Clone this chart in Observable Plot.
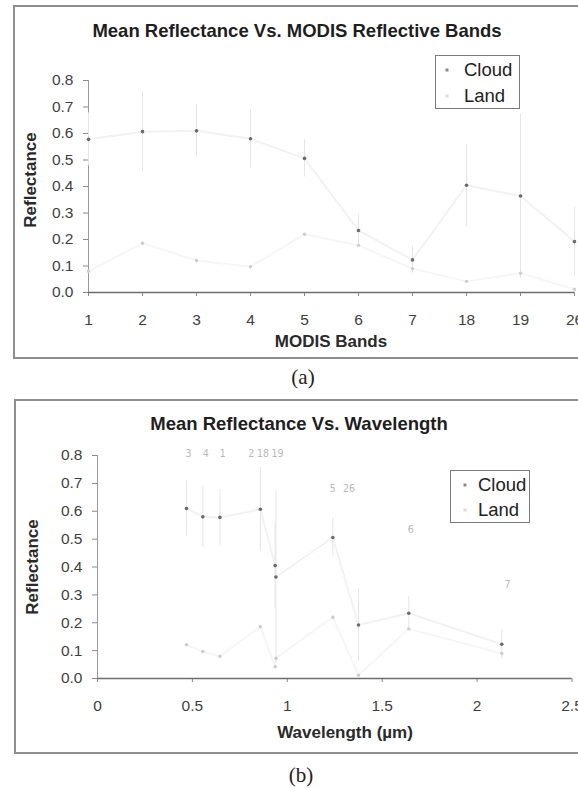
<!DOCTYPE html>
<html>
<head>
<meta charset="utf-8">
<script src="https://cdn.jsdelivr.net/npm/d3@7"></script>
<script src="https://cdn.jsdelivr.net/npm/@observablehq/plot@0.6"></script>
<style>
  html, body { margin: 0; padding: 0; background: #fff; }
  body { width: 578px; height: 788px; overflow: hidden; position: relative; font-family: "Liberation Sans", Arial, sans-serif; }
  .frame { position: absolute; border: 2px solid #8e8e8e; box-sizing: border-box; }
  .t { position: absolute; transform: translate(-50%, -50%); white-space: nowrap; color: #1e1e1e; }
  .title { font-weight: bold; font-size: 18.5px; }
  .axt { font-weight: bold; font-size: 17px; color: #2a2a2a; }
  .cap { font-family: "Liberation Serif", "DejaVu Serif", serif; font-size: 21px; color: #222; }
  .legend { position: absolute; border: 1.5px solid #7a7a7a; box-sizing: border-box; background: #fff; }
  .lg { position: absolute; font-size: 18.5px; color: #222; transform: translateY(-50%); white-space: nowrap; }
  .mk { position: absolute; width: 3px; height: 3px; transform: translate(-50%, -50%); }
  .plotwrap { position: absolute; width: 620px; }
</style>
</head>
<body>
<div class="frame" style="left:13px;top:5px;width:620px;height:354px;"></div>
<div class="frame" style="left:14px;top:399px;width:620px;height:355px;"></div>
<div id="pa" class="plotwrap" style="left:0;top:0;"></div>
<div id="pb" class="plotwrap" style="left:0;top:380px;"></div>
<div id="texts"></div>
<script>
// ---- data ----
const bands       = ["1", "2", "3", "4", "5", "6", "7", "18", "19", "26"];
const wavelengths = [0.645, 0.858, 0.469, 0.555, 1.240, 1.640, 2.130, 0.936, 0.940, 1.375];
const cloudMean   = [0.578, 0.607, 0.610, 0.580, 0.506, 0.234, 0.123, 0.405, 0.364, 0.192];
const landMean    = [0.080, 0.186, 0.121, 0.097, 0.220, 0.178, 0.090, 0.042, 0.073, 0.012];
const cloudErr    = [0.10, 0.15, 0.10, 0.11, 0.07, 0.06, 0.05, 0.155, 0.31, 0.13];
const yTicks      = [0, 0.1, 0.2, 0.3, 0.4, 0.5, 0.6, 0.7, 0.8];
const wlTicks     = [0, 0.5, 1, 1.5, 2, 2.5];
const bandLabels  = ["3", "4", "1", "2", "18", "19", "5", "26", "6", "7"];
const bandLabelX  = [0.48, 0.57, 0.66, 0.81, 0.872, 0.948, 1.24, 1.325, 1.65, 2.16];
const bandLabelY  = [0.807, 0.807, 0.807, 0.807, 0.807, 0.807, 0.68, 0.68, 0.534, 0.337];
const seriesNames = ["Cloud", "Land"];

const rows = bands.map((b, i) => ({band: b, wl: wavelengths[i], cloud: cloudMean[i], land: landMean[i], err: cloudErr[i]}));
const rowsByWl = rows.slice().sort((a, b) => a.wl - b.wl);
const labelRows = bandLabels.map((t, i) => ({t, x: bandLabelX[i], y: bandLabelY[i]}));

const FONT = '"Liberation Sans", Arial, sans-serif';
const svgStyle = {background: "transparent", maxWidth: "none", overflow: "visible", fontFamily: FONT, color: "#3a3a3a"};

const COL = {cloudDot: "#6a6a6a", landDot: "#cdcdcd", cloudLine: "#f2f2f2", landLine: "#f6f6f6", err: "#e6e6e6"};

function markSet(xKey, data) {
  return [
    Plot.line(data, {x: xKey, y: "land", stroke: COL.landLine, strokeWidth: 2}),
    Plot.line(data, {x: xKey, y: "cloud", stroke: COL.cloudLine, strokeWidth: 2}),
    Plot.ruleX(data, {x: xKey, y1: d => Math.max(0, d.cloud - d.err), y2: d => d.cloud + d.err, stroke: COL.err, strokeWidth: 1}),
    Plot.dot(data, {x: xKey, y: "land", r: 1.7, fill: COL.landDot, stroke: null}),
    Plot.dot(data, {x: xKey, y: "cloud", r: 1.8, fill: COL.cloudDot, stroke: null})
  ];
}

// ---- panel (a): MODIS bands ----
const plotA = Plot.plot({
  width: 620, height: 360,
  marginLeft: 88, marginRight: 46, marginTop: 80, marginBottom: 68,
  style: svgStyle,
  x: {type: "point", domain: bands, padding: 0, axis: null},
  y: {domain: [0, 0.8], axis: null},
  marks: [
    Plot.axisY(yTicks, {tickSize: 5, tickPadding: 10, tickFormat: d3.format(".1f"), fontSize: 15.5, color: "#3f3f3f", stroke: "#8a8a8a", label: null}),
    Plot.axisX(bands, {tickSize: 4, tickPadding: 17.5, fontSize: 15.5, color: "#3f3f3f", stroke: "#8a8a8a", label: null}),
    Plot.ruleX([bands[0]], {stroke: "#9a9a9a", strokeWidth: 1}),
    ...markSet("band", rows),
    Plot.ruleY([0], {stroke: "#6e6e6e", strokeWidth: 1.6})
  ]
});
document.getElementById("pa").appendChild(plotA);

// ---- panel (b): wavelength ----
const plotB = Plot.plot({
  width: 620, height: 360,
  marginLeft: 97, marginRight: 48.5, marginTop: 75, marginBottom: 62,
  style: svgStyle,
  x: {domain: [0, 2.5], axis: null},
  y: {domain: [0, 0.8], axis: null},
  marks: [
    Plot.axisY(yTicks, {tickSize: 5, tickPadding: 10, tickFormat: d3.format(".1f"), fontSize: 15.5, color: "#3f3f3f", stroke: "#8a8a8a", label: null}),
    Plot.axisX(wlTicks, {tickSize: 4, tickPadding: 17.5, tickFormat: d => String(d), fontSize: 15.5, color: "#3f3f3f", stroke: "#8a8a8a", label: null}),
    Plot.ruleX([0], {stroke: "#9a9a9a", strokeWidth: 1}),
    ...markSet("wl", rowsByWl),
    Plot.text(labelRows, {x: "x", y: "y", text: "t", fill: "#b8b8b8", fontSize: 10.5, fontFamily: '"Liberation Sans Narrow", "DejaVu Sans Condensed", sans-serif'}),
    Plot.ruleY([0], {stroke: "#6e6e6e", strokeWidth: 1.6})
  ]
});
document.getElementById("pb").appendChild(plotB);

// ---- HTML text: titles, axis titles, legends, captions ----
const T = document.getElementById("texts");
function addText(cls, txt, x, y, extra) {
  const d = document.createElement("div");
  d.className = "t " + cls;
  d.textContent = txt;
  d.style.left = x + "px";
  d.style.top = y + "px";
  if (extra) d.style.transform = "translate(-50%, -50%) " + extra;
  T.appendChild(d);
}
addText("title", "Mean Reflectance Vs. MODIS Reflective Bands", 297, 31);
addText("axt", "Reflectance", 31, 180, "rotate(-90deg)");
addText("axt", "MODIS Bands", 331, 342);
addText("cap", "(a)", 303, 377);
addText("title", "Mean Reflectance Vs. Wavelength", 299, 424);
addText("axt", "Reflectance", 33, 567, "rotate(-90deg)");
addText("axt", "Wavelength (\u00b5m)", 345, 733);
addText("cap", "(b)", 301, 775);

function addLegend(left, top, w, h, mx, tx, ys) {
  const box = document.createElement("div");
  box.className = "legend";
  Object.assign(box.style, {left: left + "px", top: top + "px", width: w + "px", height: h + "px"});
  T.appendChild(box);
  const mcols = ["#8a8a8a", "#dcdcdc"];
  seriesNames.forEach((name, i) => {
    const m = document.createElement("div");
    m.className = "mk";
    Object.assign(m.style, {left: mx + "px", top: ys[i] + "px", background: mcols[i]});
    T.appendChild(m);
    const l = document.createElement("div");
    l.className = "lg";
    l.textContent = name;
    Object.assign(l.style, {left: tx + "px", top: ys[i] + "px"});
    T.appendChild(l);
  });
}
addLegend(435, 55, 85, 54, 447, 464, [70, 96]);
addLegend(450, 470, 80, 53, 465, 478, [485, 510]);
</script>
</body>
</html>
